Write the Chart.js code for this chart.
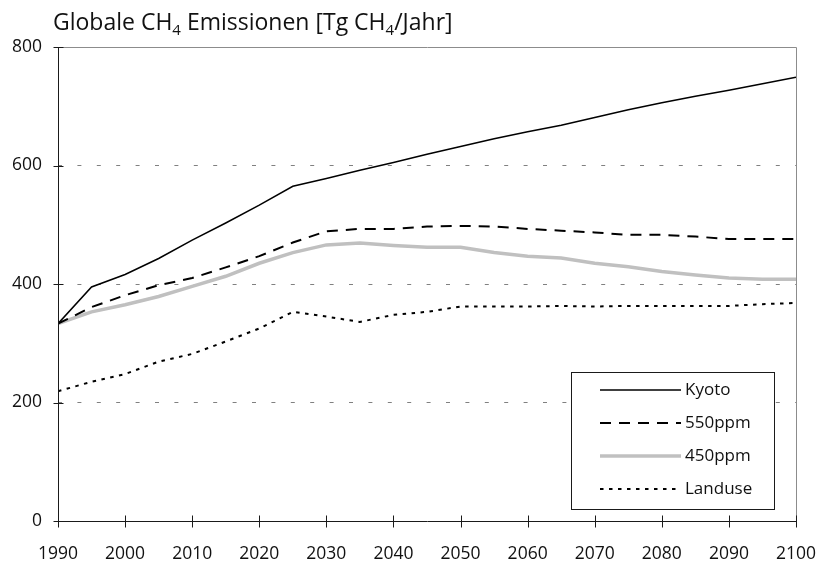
<!DOCTYPE html>
<html>
<head>
<meta charset="utf-8">
<script src="https://cdn.jsdelivr.net/npm/chart.js@4/dist/chart.umd.min.js"></script>
<style>
  html, body { margin: 0; padding: 0; background: #ffffff; }
  #c { display: block; }
</style>
</head>
<body>
<canvas id="c" width="816" height="562"></canvas>
<script>
// Global CH4 emissions per scenario, Tg CH4 per year
const years   = [1990, 1995, 2000, 2005, 2010, 2015, 2020, 2025, 2030, 2035, 2040, 2045,
                 2050, 2055, 2060, 2065, 2070, 2075, 2080, 2085, 2090, 2095, 2100];
const kyoto   = [333, 395, 416, 443, 474, 503, 533, 565, 578, 592, 605, 619,
                 632, 645, 657, 668, 681, 694, 706, 717, 727, 738, 749];
const ppm550  = [333, 361, 381, 398, 410, 428, 447, 470, 489, 493, 493, 497,
                 498, 497, 493, 490, 487, 483, 483, 480, 476, 476, 476];
const ppm450  = [333, 353, 365, 379, 396, 413, 435, 453, 466, 469, 465, 462,
                 462, 453, 447, 444, 435, 429, 421, 415, 410, 408, 408];
const landuse = [219, 235, 248, 269, 282, 303, 325, 353, 345, 336, 348, 353,
                 362, 362, 362, 363, 362, 363, 363, 363, 363, 366, 368];

const seriesNames = ['Kyoto', '550ppm', '450ppm', 'Landuse'];
const titleParts  = [['Globale CH', false], ['4', true], [' Emissionen [Tg CH', false], ['4', true], ['/Jahr]', false]];

const FONT = '"Open Sans", "DejaVu Sans", sans-serif';

const points = vals => years.map((y, i) => ({ x: y, y: vals[i] }));

// Axis lines with ticks crossing them, plus the light frame on top and right
const axesPlugin = {
  id: 'axesFrame',
  afterDatasetsDraw(chart) {
    const { ctx, chartArea: a, scales } = chart;
    const L = Math.round(a.left) + 0.5, R = Math.round(a.right) + 0.5;
    const T = Math.round(a.top) + 0.5, B = Math.round(a.bottom) + 0.5;
    ctx.save();
    ctx.lineWidth = 1;
    ctx.strokeStyle = '#8c8c8c';
    ctx.beginPath();
    ctx.moveTo(L, T); ctx.lineTo(R, T); ctx.lineTo(R, B);
    ctx.stroke();
    ctx.strokeStyle = '#1a1a1a';
    ctx.beginPath();
    ctx.moveTo(L, T); ctx.lineTo(L, B); ctx.lineTo(R, B);
    scales.x.ticks.forEach(t => {
      const px = Math.round(scales.x.getPixelForValue(t.value)) + 0.5;
      ctx.moveTo(px, B - 6); ctx.lineTo(px, B + 6);
    });
    scales.y.ticks.forEach(t => {
      const py = Math.round(scales.y.getPixelForValue(t.value)) + 0.5;
      ctx.moveTo(L - 5, py); ctx.lineTo(L + 5, py);
    });
    ctx.stroke();
    ctx.restore();
  }
};

// Legend box inside the plot area, lower right
const legendPlugin = {
  id: 'boxLegend',
  afterDraw(chart) {
    const { ctx } = chart;
    const bx = 571.5, by = 372.5, bw = 203, bh = 137;
    ctx.save();
    ctx.fillStyle = '#ffffff';
    ctx.fillRect(bx, by, bw, bh);
    ctx.strokeStyle = '#1a1a1a';
    ctx.lineWidth = 1;
    ctx.strokeRect(bx, by, bw, bh);
    ctx.font = '17px ' + FONT;
    ctx.textBaseline = 'middle';
    ctx.textAlign = 'left';
    chart.data.datasets.forEach((ds, i) => {
      const y = 390 + i * 33;
      ctx.save();
      ctx.strokeStyle = ds.borderColor;
      ctx.lineWidth = ds.borderWidth;
      ctx.setLineDash(ds.borderDash || []);
      ctx.beginPath();
      ctx.moveTo(600, y); ctx.lineTo(681, y);
      ctx.stroke();
      ctx.restore();
      ctx.fillStyle = '#111111';
      ctx.fillText(ds.label, 685, y);
    });
    ctx.restore();
  }
};

// Title with subscripted 4 in CH4
const titlePlugin = {
  id: 'subTitle',
  afterDraw(chart) {
    const { ctx } = chart;
    ctx.save();
    ctx.fillStyle = '#111111';
    ctx.textBaseline = 'alphabetic';
    ctx.textAlign = 'left';
    let x = 53;
    const base = 30;
    titleParts.forEach(([txt, sub]) => {
      ctx.font = (sub ? '15px ' : '23px ') + FONT;
      ctx.fillText(txt, x, sub ? base + 5 : base);
      x += ctx.measureText(txt).width;
    });
    ctx.restore();
  }
};

new Chart(document.getElementById('c'), {
  type: 'line',
  data: {
    datasets: [
      { label: seriesNames[0], data: points(kyoto),   borderColor: '#000000', borderWidth: 1.5 },
      { label: seriesNames[1], data: points(ppm550),  borderColor: '#000000', borderWidth: 2, borderDash: [11, 8] },
      { label: seriesNames[2], data: points(ppm450),  borderColor: '#c0c0c0', borderWidth: 3.5 },
      { label: seriesNames[3], data: points(landuse), borderColor: '#000000', borderWidth: 2, borderDash: [3.5, 5.5] }
    ]
  },
  options: {
    responsive: false,
    animation: false,
    devicePixelRatio: 1,
    layout: { padding: { top: 47, right: 20, bottom: 0, left: 0 } },
    elements: { point: { radius: 0 }, line: { tension: 0, fill: false } },
    plugins: { legend: { display: false }, title: { display: false }, tooltip: { enabled: false } },
    scales: {
      x: {
        type: 'linear', min: 1990, max: 2100,
        afterFit: s => { s.height = 41; s.paddingLeft = 0; s.paddingRight = 0; },
        ticks: { stepSize: 10, padding: 23, color: '#111111', font: { family: FONT, size: 17.5 },
                 callback: v => String(v), maxRotation: 0 },
        grid: { display: false, drawTicks: false },
        border: { display: false }
      },
      y: {
        type: 'linear', min: 0, max: 800,
        afterFit: s => { s.width = 58; s.paddingTop = 0; s.paddingBottom = 0; },
        ticks: { stepSize: 200, padding: 16, color: '#111111', font: { family: FONT, size: 17.5 } },
        grid: {
          drawTicks: false,
          color: c => (c.tick && c.tick.value > 0 && c.tick.value < 800) ? '#808080' : 'rgba(0,0,0,0)',
          lineWidth: 1
        },
        border: { display: false, dash: [4, 15.4] }
      }
    }
  },
  plugins: [axesPlugin, legendPlugin, titlePlugin]
});
</script>
</body>
</html>
